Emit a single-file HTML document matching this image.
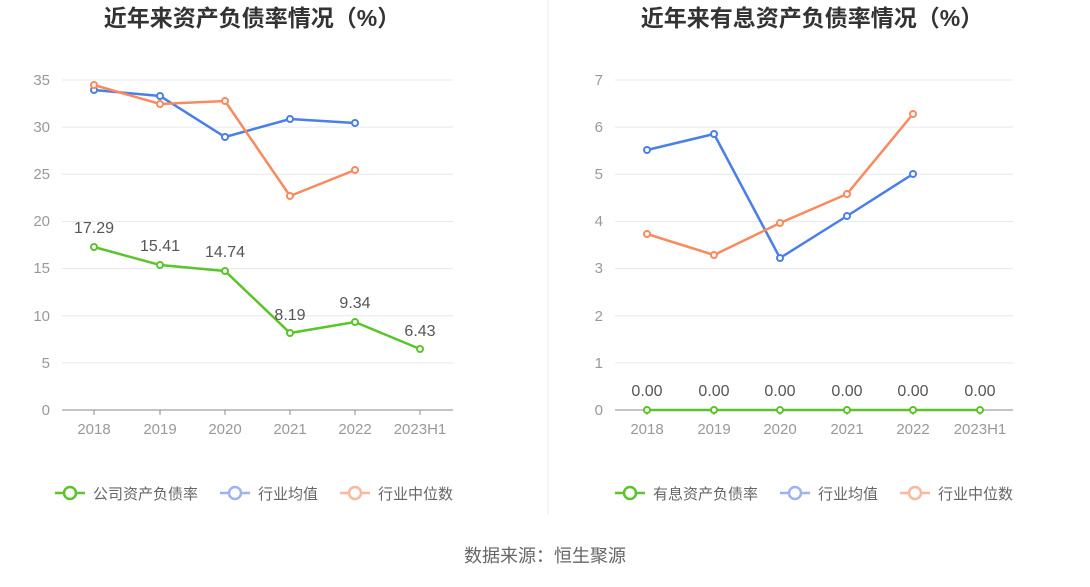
<!DOCTYPE html>
<html><head><meta charset="utf-8"><style>
body{margin:0;background:#fff;width:1090px;height:582px;overflow:hidden}
svg text{font-family:"Liberation Sans","Noto Sans CJK SC",sans-serif}
</style></head><body>
<svg width="1090" height="582" xmlns="http://www.w3.org/2000/svg">
<line x1="548" y1="0" x2="548" y2="515" stroke="#eee"/>
<text x="252" y="26" font-size="23" font-weight="bold" fill="#333" text-anchor="middle">近年来资产负债率情况（%）</text>
<text x="812" y="26" font-size="23" font-weight="bold" fill="#333" text-anchor="middle">近年来有息资产负债率情况（%）</text>
<g stroke="#e6e8f0" stroke-width="1">
<line x1="62" x2="453" y1="80.0" y2="80.0"/><line x1="62" x2="453" y1="127.1" y2="127.1"/><line x1="62" x2="453" y1="174.3" y2="174.3"/><line x1="62" x2="453" y1="221.4" y2="221.4"/><line x1="62" x2="453" y1="268.6" y2="268.6"/><line x1="62" x2="453" y1="315.7" y2="315.7"/><line x1="62" x2="453" y1="362.9" y2="362.9"/>
<line x1="615" x2="1013" y1="80.0" y2="80.0"/><line x1="615" x2="1013" y1="127.1" y2="127.1"/><line x1="615" x2="1013" y1="174.3" y2="174.3"/><line x1="615" x2="1013" y1="221.4" y2="221.4"/><line x1="615" x2="1013" y1="268.6" y2="268.6"/><line x1="615" x2="1013" y1="315.7" y2="315.7"/><line x1="615" x2="1013" y1="362.9" y2="362.9"/>
</g>
<g stroke="#888"><line x1="62" x2="453" y1="410" y2="410"/><line x1="615" x2="1013" y1="410" y2="410"/>
<line x1="94" x2="94" y1="410" y2="415"/><line x1="160" x2="160" y1="410" y2="415"/><line x1="225" x2="225" y1="410" y2="415"/><line x1="290" x2="290" y1="410" y2="415"/><line x1="355" x2="355" y1="410" y2="415"/><line x1="420" x2="420" y1="410" y2="415"/>
<line x1="647" x2="647" y1="410" y2="415"/><line x1="714" x2="714" y1="410" y2="415"/><line x1="780" x2="780" y1="410" y2="415"/><line x1="847" x2="847" y1="410" y2="415"/><line x1="913" x2="913" y1="410" y2="415"/><line x1="980" x2="980" y1="410" y2="415"/></g>
<g font-size="15" fill="#999" text-anchor="end">
<text x="50" y="85">35</text><text x="50" y="132">30</text><text x="50" y="179">25</text><text x="50" y="226">20</text><text x="50" y="273">15</text><text x="50" y="321">10</text><text x="50" y="368">5</text><text x="50" y="415">0</text>
<text x="603" y="85">7</text><text x="603" y="132">6</text><text x="603" y="179">5</text><text x="603" y="226">4</text><text x="603" y="273">3</text><text x="603" y="321">2</text><text x="603" y="368">1</text><text x="603" y="415">0</text>
</g>
<g font-size="15" fill="#999" text-anchor="middle">
<text x="94" y="434">2018</text><text x="160" y="434">2019</text><text x="225" y="434">2020</text><text x="290" y="434">2021</text><text x="355" y="434">2022</text><text x="420" y="434">2023H1</text>
<text x="647" y="434">2018</text><text x="714" y="434">2019</text><text x="780" y="434">2020</text><text x="847" y="434">2021</text><text x="913" y="434">2022</text><text x="980" y="434">2023H1</text>
</g>
<g fill="#fff" stroke-width="2.5">
<polyline fill="none" stroke="#4a7ee8" points="94,90 160,96 225,137 290,119 355,123"/>
<g stroke="#4a7ee8" stroke-width="2"><circle cx="94" cy="90" r="3"/><circle cx="160" cy="96" r="3"/><circle cx="225" cy="137" r="3"/><circle cx="290" cy="119" r="3"/><circle cx="355" cy="123" r="3"/></g>
<polyline fill="none" stroke="#f98a5e" points="94,85 160,104 225,101 290,196 355,170"/>
<g stroke="#f98a5e" stroke-width="2"><circle cx="94" cy="85" r="3"/><circle cx="160" cy="104" r="3"/><circle cx="225" cy="101" r="3"/><circle cx="290" cy="196" r="3"/><circle cx="355" cy="170" r="3"/></g>
<polyline fill="none" stroke="#5ac42a" points="94,247 160,265 225,271 290,333 355,322 420,349"/>
<g stroke="#5ac42a" stroke-width="2"><circle cx="94" cy="247" r="3"/><circle cx="160" cy="265" r="3"/><circle cx="225" cy="271" r="3"/><circle cx="290" cy="333" r="3"/><circle cx="355" cy="322" r="3"/><circle cx="420" cy="349" r="3"/></g>
<polyline fill="none" stroke="#4a7ee8" points="647,150 714,134 780,258 847,216 913,174"/>
<g stroke="#4a7ee8" stroke-width="2"><circle cx="647" cy="150" r="3"/><circle cx="714" cy="134" r="3"/><circle cx="780" cy="258" r="3"/><circle cx="847" cy="216" r="3"/><circle cx="913" cy="174" r="3"/></g>
<polyline fill="none" stroke="#f98a5e" points="647,234 714,255 780,223 847,194 913,114"/>
<g stroke="#f98a5e" stroke-width="2"><circle cx="647" cy="234" r="3"/><circle cx="714" cy="255" r="3"/><circle cx="780" cy="223" r="3"/><circle cx="847" cy="194" r="3"/><circle cx="913" cy="114" r="3"/></g>
<polyline fill="none" stroke="#5ac42a" points="647,410 980,410"/>
<g stroke="#5ac42a" stroke-width="2"><circle cx="647" cy="410" r="3"/><circle cx="714" cy="410" r="3"/><circle cx="780" cy="410" r="3"/><circle cx="847" cy="410" r="3"/><circle cx="913" cy="410" r="3"/><circle cx="980" cy="410" r="3"/></g>
</g>
<g font-size="16" fill="#555" text-anchor="middle">
<text x="94" y="233">17.29</text><text x="160" y="251">15.41</text><text x="225" y="257">14.74</text><text x="290" y="320">8.19</text><text x="355" y="308">9.34</text><text x="420" y="336">6.43</text>
<text x="647" y="396">0.00</text><text x="714" y="396">0.00</text><text x="780" y="396">0.00</text><text x="847" y="396">0.00</text><text x="913" y="396">0.00</text><text x="980" y="396">0.00</text>
</g>
<g stroke-width="2.5" fill="#fff">
<line x1="55" x2="85" y1="493" y2="493" stroke="#5ac42a"/><circle cx="70" cy="493" r="6" stroke="#5ac42a"/>
<line x1="220" x2="250" y1="493" y2="493" stroke="#9ab6f0"/><circle cx="235" cy="493" r="6" stroke="#9ab6f0"/>
<line x1="340" x2="370" y1="493" y2="493" stroke="#fbb89d"/><circle cx="355" cy="493" r="6" stroke="#fbb89d"/>
<line x1="615" x2="645" y1="493" y2="493" stroke="#5ac42a"/><circle cx="630" cy="493" r="6" stroke="#5ac42a"/>
<line x1="780" x2="810" y1="493" y2="493" stroke="#9ab6f0"/><circle cx="795" cy="493" r="6" stroke="#9ab6f0"/>
<line x1="900" x2="930" y1="493" y2="493" stroke="#fbb89d"/><circle cx="915" cy="493" r="6" stroke="#fbb89d"/>
</g>
<g font-size="15" fill="#666">
<text x="93" y="499">公司资产负债率</text><text x="258" y="499">行业均值</text><text x="378" y="499">行业中位数</text>
<text x="653" y="499">有息资产负债率</text><text x="818" y="499">行业均值</text><text x="938" y="499">行业中位数</text>
</g>
<text x="545" y="562" font-size="18" fill="#666" text-anchor="middle">数据来源：恒生聚源</text>
</svg>
</body></html>
